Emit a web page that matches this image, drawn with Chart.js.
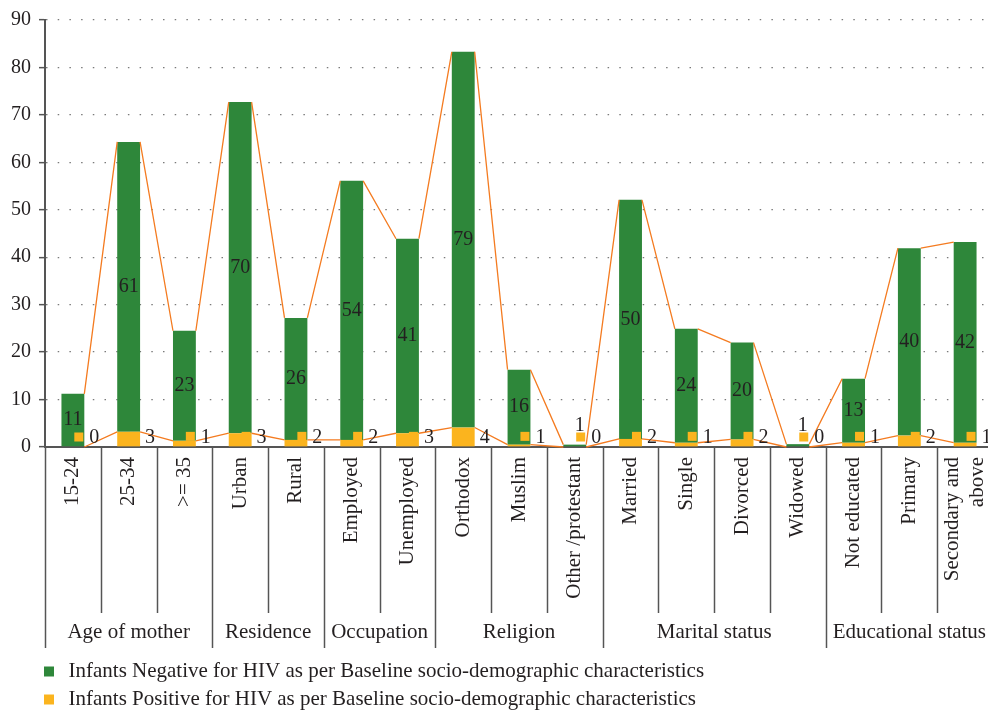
<!DOCTYPE html>
<html>
<head>
<meta charset="utf-8">
<script src="https://cdn.jsdelivr.net/npm/chart.js@4"></script>
<style>
  html, body { margin: 0; padding: 0; background: #fff; overflow: hidden; }
  #wrap { position: relative; width: 996px; height: 711px; }
</style>
</head>
<body>
<div id="wrap"><canvas id="hivChart" width="996" height="711"></canvas></div>
<script>
// categories (bottom level) and groups (second level)
const categories = ['15-24', '25-34', '>= 35', 'Urban', 'Rural', 'Employed', 'Unemployed',
  'Orthodox', 'Muslim', 'Other /protestant', 'Married', 'Single', 'Divorced', 'Widowed',
  'Not educated', 'Primary', ['Secondary and', 'above']];
const groupNames = ['Age of mother', 'Residence', 'Occupation', 'Religion', 'Marital status', 'Educational status'];
const groupSizes = [3, 2, 2, 3, 4, 3];

// bar heights (as plotted)
const positiveValues = [0, 3.2, 1.3, 2.9, 1.5, 1.5, 2.9, 4.1, 0.5, 0, 1.7, 0.9, 1.6, 0, 0.9, 2.4, 0.9];
const negativeValues = [11.2, 61.1, 23.2, 69.8, 25.7, 54.6, 41.0, 79.2, 15.8, 0.5, 50.4, 24.0, 20.4, 0.6, 13.5, 39.5, 42.3];

// data labels (counts printed on the chart)
const negativeLabels = [11, 61, 23, 70, 26, 54, 41, 79, 16, 1, 50, 24, 20, 1, 13, 40, 42];
const positiveLabels = [0, 3, 1, 3, 2, 2, 3, 4, 1, 0, 2, 1, 2, 0, 1, 2, 1];

const yMin = 0, yMax = 90, yStep = 10;

const GREEN = '#2e873a';
const YELLOW = '#fbb41e';
const LINE = '#f47b20';
const TEXT = '#231f20';
const AXIS = '#555555';
const FONT = "'Liberation Serif', 'Times New Roman', serif";
const FS = 21;      // words
const FS_NUM = 20;  // numbers

Chart.defaults.font.family = FONT;
Chart.defaults.font.size = FS;
Chart.defaults.color = TEXT;

// excel-like series lines joining the bar tops
const seriesLines = {
    id: 'seriesLines',
    afterDatasetsDraw(chart) {
        const ctx = chart.ctx;
        ctx.save();
        ctx.strokeStyle = LINE;
        ctx.lineWidth = 1.3;
        [0, 1].forEach(di => {
            const bars = chart.getDatasetMeta(di).data;
            ctx.beginPath();
            for (let i = 0; i < bars.length - 1; i++) {
                const a = bars[i], b = bars[i + 1];
                ctx.moveTo(a.x + a.width / 2, a.y);
                ctx.lineTo(b.x - b.width / 2, b.y);
            }
            ctx.stroke();
        });
        ctx.restore();
    }
};

const barLabels = {
    id: 'barLabels',
    afterDatasetsDraw(chart) {
        const ctx = chart.ctx;
        const pos = chart.getDatasetMeta(0).data;
        const neg = chart.getDatasetMeta(1).data;
        ctx.save();
        ctx.font = FS_NUM + 'px ' + FONT;
        ctx.textBaseline = 'middle';

        neg.forEach((bar, i) => {
            ctx.fillStyle = TEXT;
            ctx.textAlign = 'center';
            const h = bar.base - bar.y;
            if (h > 14) {
                ctx.fillText(negativeLabels[i], bar.x, (bar.y + bar.base) / 2);
            } else {
                ctx.fillText(negativeLabels[i], bar.x + 5, bar.base - 21);
            }
        });

        pos.forEach((bar, i) => {
            const right = bar.x + bar.width / 2;
            const cy = Math.min((bar.y + bar.base) / 2, bar.base - 10);
            ctx.fillStyle = YELLOW;
            ctx.fillRect(right - 10, cy - 4.5, 9, 9);
            ctx.fillStyle = TEXT;
            ctx.textAlign = 'left';
            ctx.fillText(positiveLabels[i], right + 5, cy + 1);
        });
        ctx.restore();
    }
};

// multi-level category axis: rotated labels, separators and group titles
const groupAxis = {
    id: 'groupAxis',
    afterLayout(chart) {
        // legend keys start under the y axis
        chart.legend.left = 33;
    },
    afterDraw(chart) {
        const ctx = chart.ctx;
        const xs = chart.scales.x;
        const bottom = chart.chartArea.bottom;
        const groupEdges = [0];
        groupSizes.forEach(s => groupEdges.push(groupEdges[groupEdges.length - 1] + s));

        ctx.save();
        ctx.strokeStyle = AXIS;
        ctx.lineWidth = 1.5;
        for (let k = 0; k <= categories.length; k++) {
            const x = Math.round(xs.getPixelForValue(k - 0.5)) + 0.5;
            const len = groupEdges.includes(k) ? 201 : 166;
            ctx.beginPath();
            ctx.moveTo(x, bottom);
            ctx.lineTo(x, bottom + len);
            ctx.stroke();
        }

        ctx.fillStyle = TEXT;
        ctx.font = FS + 'px ' + FONT;
        ctx.textBaseline = 'middle';

        ctx.textAlign = 'right';
        categories.forEach((label, i) => {
            const lines = Array.isArray(label) ? label : [label];
            const cx = xs.getPixelForValue(i);
            lines.forEach((line, j) => {
                const off = (j - (lines.length - 1) / 2) * 25;
                ctx.save();
                ctx.translate(cx + off, bottom + 10);
                ctx.rotate(-Math.PI / 2);
                ctx.fillText(line, 0, 0);
                ctx.restore();
            });
        });

        ctx.textAlign = 'center';
        groupNames.forEach((name, g) => {
            const x0 = xs.getPixelForValue(groupEdges[g] - 0.5);
            const x1 = xs.getPixelForValue(groupEdges[g + 1] - 0.5);
            ctx.fillText(name, (x0 + x1) / 2, bottom + 185);
        });
        ctx.restore();
    }
};

const ctx = document.getElementById('hivChart').getContext('2d');
new Chart(ctx, {
    type: 'bar',
    data: {
        labels: categories,
        datasets: [
            {
                label: 'Infants Positive for HIV as per Baseline socio-demographic characteristics',
                data: positiveValues,
                backgroundColor: YELLOW
            },
            {
                label: 'Infants Negative for HIV as per Baseline socio-demographic characteristics',
                data: negativeValues,
                backgroundColor: GREEN
            }
        ]
    },
    options: {
        responsive: false,
        animation: false,
        barPercentage: 0.41,
        categoryPercentage: 1,
        layout: { padding: { left: 0, right: 3, top: 19, bottom: 0 } },
        plugins: {
            legend: {
                position: 'bottom',
                align: 'start',
                reverse: true,
                maxHeight: 57,
                labels: {
                    usePointStyle: true, pointStyle: 'rect',
                    boxWidth: 18, boxHeight: 10, padding: 7,
                    color: TEXT, font: { size: FS }
                }
            },
            tooltip: { enabled: false }
        },
        scales: {
            x: {
                stacked: true,
                grid: { display: false },
                border: { color: AXIS, width: 2 },
                ticks: { display: false },
                afterFit(scale) { scale.height = 207; }
            },
            y: {
                stacked: true,
                min: yMin,
                max: yMax,
                ticks: { stepSize: yStep, padding: 8, color: TEXT, font: { size: FS_NUM } },
                grid: { color: '#7a7a7a', lineWidth: 1.3, tickColor: AXIS, tickLength: 6, tickWidth: 1.5, tickBorderDash: [] },
                border: { color: AXIS, width: 2, dash: [1.5, 10.2] },
                afterFit(scale) { scale.width = 45; }
            }
        }
    },
    plugins: [seriesLines, barLabels, groupAxis]
});
</script>
</body>
</html>
